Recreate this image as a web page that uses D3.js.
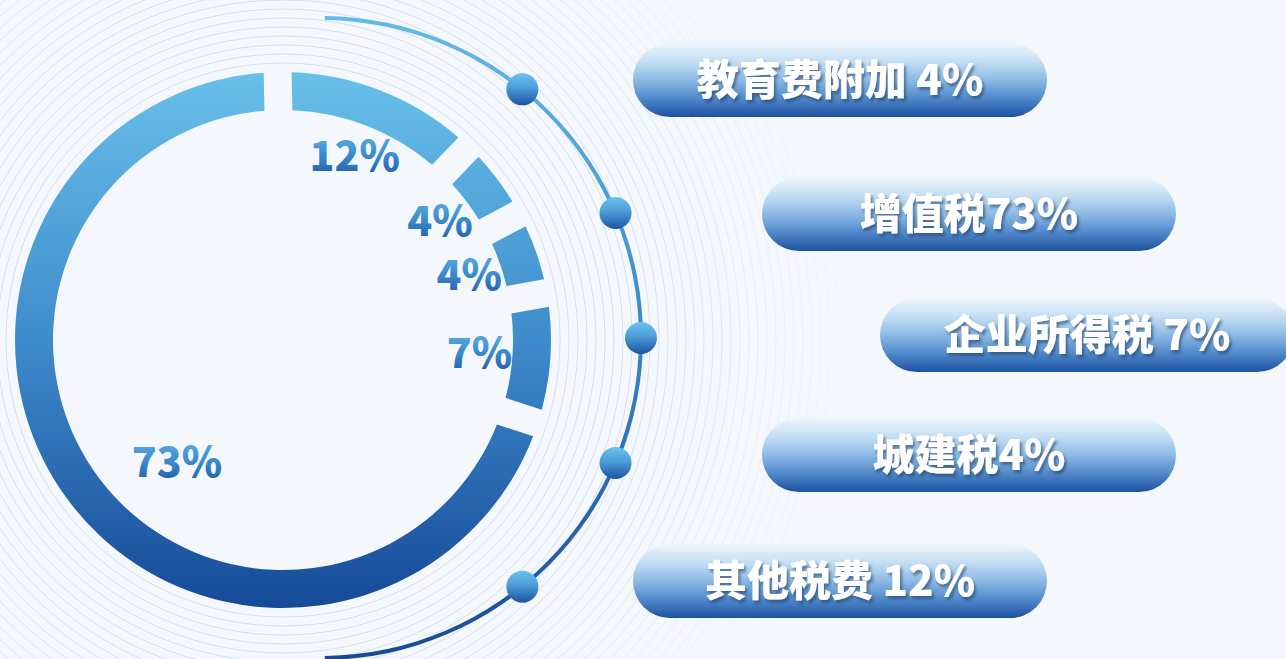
<!DOCTYPE html>
<html>
<head>
<meta charset="utf-8">
<script src="https://cdn.jsdelivr.net/npm/d3@7"></script>
<style>
  body { margin: 0; background: #f4f8fc; overflow: hidden; }
  text { font-family: "Noto Sans CJK SC", "Noto Sans", sans-serif; font-weight: 900; }
</style>
</head>
<body>
<svg id="chart"></svg>
<script>
// data
var categories = ["其他税费", "教育费附加", "城建税", "企业所得税", "增值税"]
var values = [12, 4, 4, 7, 73]
var ringLabels = ["12%", "4%", "4%", "7%", "73%"]
var pillLabels = ["教育费附加 4%", "增值税73%", "企业所得税 7%", "城建税4%", "其他税费 12%"]

// layout
var dimensions = { width: 1286, height: 659 }
var ring = { cx: 283, cy: 340, inner: 230, outer: 268, pad: 0.079, start: -0.02 }
var rail = { cx: 321, cy: 338, r: 320, width: 4, dotR: 16, dotAngles: [39, 67, 90, 113, 141] }
var pills = { x: [633, 762, 880, 762, 633], y: [80, 214, 335, 455, 581], width: 414, height: 74 }

var svg = d3.select("#chart")
  .attr("width", dimensions.width)
  .attr("height", dimensions.height)

var defs = svg.append("defs")

function vGrad(id, stops, span) {
  var g = defs.append("linearGradient").attr("id", id)
    .attr("x1", 0).attr("x2", 0).attr("y1", 0).attr("y2", 1)
  if (span) {
    g.attr("gradientUnits", "userSpaceOnUse")
      .attr("y1", span[0]).attr("y2", span[1])
  }
  stops.forEach(s => g.append("stop").attr("offset", s[0]).attr("stop-color", s[1]))
}

// ring and rail paths are drawn around (0,0), so their gradients run in local space
vGrad("ringGrad", [[0, "#68c0ea"], [0.5, "#3f8bcb"], [1, "#164a98"]], [-ring.outer, ring.outer])
vGrad("railGrad", [[0, "#62bbe9"], [0.5, "#3c86c8"], [1, "#184a96"]], [-rail.r, rail.r])
vGrad("dotGrad", [[0, "#6cc2ee"], [0.45, "#4c9dd8"], [1, "#1d53a2"]])
vGrad("labelGrad", [[0, "#6ec3ef"], [0.55, "#3a88cc"], [1, "#1a4f9e"]])
vGrad("pillGrad", [[0, "#eef6fc"], [0.25, "#c4def3"], [0.5, "#8cbae4"], [0.75, "#5089ca"], [1, "#1d51a0"]])

var fade = defs.append("radialGradient").attr("id", "fadeGrad")
  .attr("gradientUnits", "userSpaceOnUse")
  .attr("cx", ring.cx).attr("cy", ring.cy).attr("r", 580)
fade.append("stop").attr("offset", 0.6).attr("stop-color", "#fff")
fade.append("stop").attr("offset", 1).attr("stop-color", "#000")
defs.append("mask").attr("id", "fadeMask")
  .append("rect").attr("width", dimensions.width).attr("height", dimensions.height)
  .attr("fill", "url(#fadeGrad)")

defs.append("filter").attr("id", "shadow")
  .attr("x", "-10%").attr("y", "-20%").attr("width", "130%").attr("height", "150%")
  .append("feDropShadow")
  .attr("dx", 2).attr("dy", 3).attr("stdDeviation", 1.8)
  .attr("flood-color", "#1a3a66").attr("flood-opacity", 0.6)

// background rings
svg.append("g")
  .attr("mask", "url(#fadeMask)")
  .selectAll("circle")
  .data(d3.range(277, 760, 9))
  .enter()
  .append("circle")
  .attr("cx", ring.cx)
  .attr("cy", ring.cy)
  .attr("r", d => d)
  .attr("fill", "none")
  .attr("stroke", "#d2dfec")
  .attr("stroke-width", 1)

// donut
var pie = d3.pie()
  .value(d => d)
  .sort(null)
  .padAngle(ring.pad)
  .startAngle(ring.start)
  .endAngle(ring.start + 2 * Math.PI)

var arcs = pie(values)

var arcGen = d3.arc()
  .innerRadius(ring.inner)
  .outerRadius(ring.outer)

svg.append("g")
  .attr("transform", `translate(${ring.cx}, ${ring.cy})`)
  .selectAll("path")
  .data(arcs)
  .enter()
  .append("path")
  .attr("d", arcGen)
  .attr("fill", "url(#ringGrad)")

function labelAngle(d) {
  return d.value > 50 ? d.startAngle + 0.45 * (d.endAngle - d.startAngle) : (d.startAngle + d.endAngle) / 2
}
function labelRadius(d) {
  return d.value > 50 ? 162 : 197
}

svg.append("g")
  .selectAll("text")
  .data(arcs)
  .enter()
  .append("text")
  .attr("x", d => ring.cx + labelRadius(d) * Math.sin(labelAngle(d)))
  .attr("y", d => ring.cy - labelRadius(d) * Math.cos(labelAngle(d)))
  .attr("dy", "0.36em")
  .attr("text-anchor", "middle")
  .attr("font-size", 41)
  .attr("fill", "url(#labelGrad)")
  .text((d, i) => ringLabels[i])

// outer rail with dots
var railArc = d3.arc()
  .innerRadius(rail.r - rail.width / 2)
  .outerRadius(rail.r + rail.width / 2)
  .startAngle(0.012)
  .endAngle(Math.PI - 0.012)

svg.append("path")
  .attr("d", railArc())
  .attr("transform", `translate(${rail.cx}, ${rail.cy})`)
  .attr("fill", "url(#railGrad)")

var deg = d3.scaleLinear().domain([0, 180]).range([0, Math.PI])

svg.append("g")
  .selectAll("circle")
  .data(rail.dotAngles)
  .enter()
  .append("circle")
  .attr("cx", d => rail.cx + rail.r * Math.sin(deg(d)))
  .attr("cy", d => rail.cy - rail.r * Math.cos(deg(d)))
  .attr("r", rail.dotR)
  .attr("fill", "url(#dotGrad)")

// pills
var pill = svg.append("g")
  .selectAll("g")
  .data(pillLabels)
  .enter()
  .append("g")
  .attr("transform", (d, i) => `translate(${pills.x[i]}, ${pills.y[i] - pills.height / 2})`)

pill.append("rect")
  .attr("width", pills.width)
  .attr("height", pills.height)
  .attr("rx", pills.height / 2)
  .attr("fill", "url(#pillGrad)")

pill.append("text")
  .attr("x", pills.width / 2)
  .attr("y", pills.height / 2)
  .attr("dy", "0.36em")
  .attr("text-anchor", "middle")
  .attr("font-size", 42)
  .attr("fill", "#fff")
  .attr("filter", "url(#shadow)")
  .text(d => d)
</script>
</body>
</html>
